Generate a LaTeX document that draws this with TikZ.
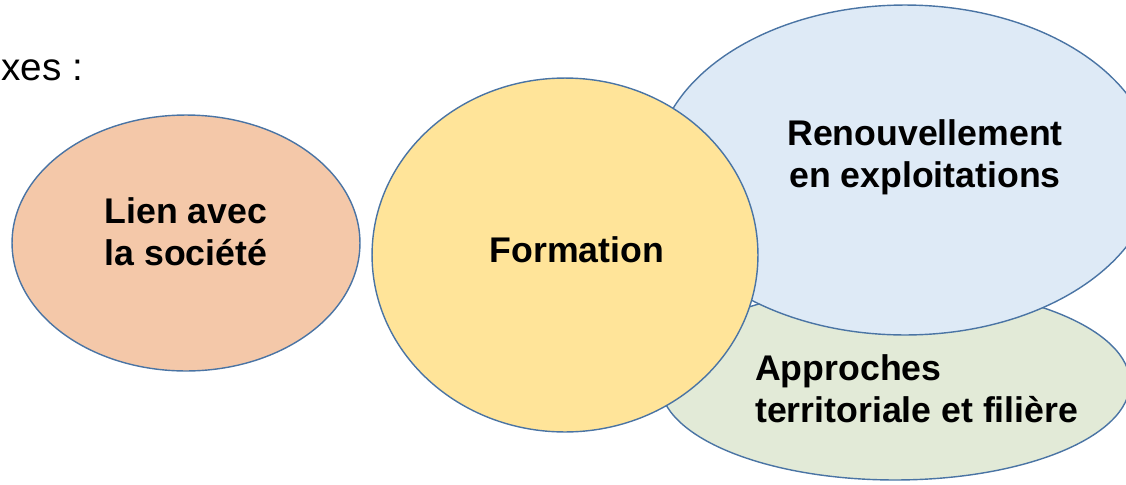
\documentclass[tikz,border=0pt]{standalone}
\usepackage{fontspec}
\setmainfont{Liberation Sans}
\usetikzlibrary{shapes.geometric}

\definecolor{edgeblue}{HTML}{4A74A4}
\definecolor{fillsalmon}{HTML}{F4C8A9}
\definecolor{fillyellow}{HTML}{FFE499}
\definecolor{fillblue}{HTML}{DEEAF6}
\definecolor{fillgreen}{HTML}{E2EAD7}

\begin{document}
\begin{tikzpicture}[
    x=0.02cm, y=-0.02cm,
    bubble/.style={ellipse, draw=edgeblue, line width=0.8pt, inner sep=0pt},
    txt/.style={align=center, font=\fontsize{20.3}{24}\selectfont\bfseries},
    intro/.style={font=\fontsize{22}{26}\selectfont, inner sep=0pt},
]
\useasboundingbox (0,0) rectangle (1126,484);

% Ellipses (ordre de superposition)
\node[bubble, fill=fillgreen, minimum width=9.4cm, minimum height=3.88cm] (appro) at (895, 383) {};
\node[bubble, fill=fillblue, minimum width=10cm, minimum height=6.6cm] (renouv) at (905, 170) {};
\node[bubble, fill=fillyellow, minimum width=7.72cm, minimum height=7.08cm] (forma) at (565, 255) {};
\node[bubble, fill=fillsalmon, minimum width=6.96cm, minimum height=5.12cm] (lien) at (186, 243) {};

% Textes
\node[intro, anchor=west] (axes) at (1, 70) {xes :};
\node[txt] (lientxt) at (186, 232) {Lien avec\\la société};
\node[txt] (formatxt) at (577, 250) {Formation};
\node[txt] (renouvtxt) at (925, 157) {Renouvellement\\en exploitations};
\node[txt, align=left, anchor=west] (approtxt) at (749, 389) {Approches\\territoriale et filière};

\end{tikzpicture}
\end{document}
